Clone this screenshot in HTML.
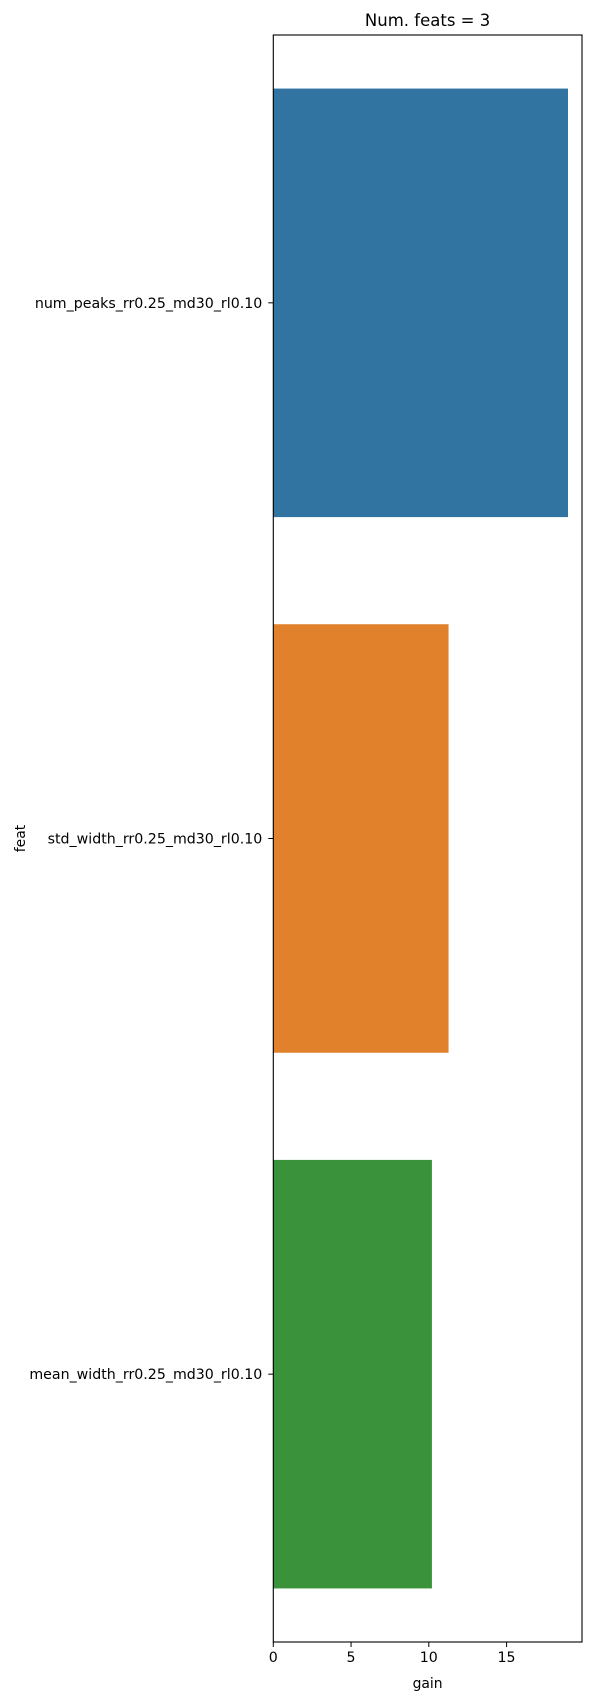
<!DOCTYPE html>
<html><head><meta charset="utf-8"><style>
html,body{margin:0;padding:0;background:#fff;}
svg{display:block;font-family:"DejaVu Sans","Liberation Sans",sans-serif;}
</style></head><body>
<svg id="chart" width="600" height="1700" xmlns="http://www.w3.org/2000/svg">
<rect width="600" height="1700" fill="#fff"/>
<text x="427.6" y="26" font-size="16.5" text-anchor="middle" fill="#000">Num. feats = 3</text>
<g id="bars"></g>
<g id="yaxis"></g>
<g id="xaxis"></g>
<rect x="273.3" y="35" width="308.7" height="1607" fill="none" stroke="#000" stroke-width="1.1"/>
<text x="0" y="0" font-size="13.9" text-anchor="middle" fill="#000" transform="translate(25,838.5) rotate(-90)">feat</text>
<text x="427.6" y="1688" font-size="13.9" text-anchor="middle" fill="#000">gain</text>
</svg>
<script>
const categories = ["num_peaks_rr0.25_md30_rl0.10","std_width_rr0.25_md30_rl0.10","mean_width_rr0.25_md30_rl0.10"];
const gains = [18.95, 11.27, 10.2];
const colors = ["#3274a1","#e1812c","#3a923a"];
const xTicks = [0,5,10,15];
const xTickLabels = ["0","5","10","15"];

const NS="http://www.w3.org/2000/svg";
const L=273.3,R=582,T=35,B=1642,XMAX=19.85;
const x=v=>L+(v/XMAX)*(R-L);
const band=(B-T)/categories.length;
const yc=i=>T+band*(i+0.5);
const bars=document.getElementById('bars'),ya=document.getElementById('yaxis'),xa=document.getElementById('xaxis');
function mk(t,a){const e=document.createElementNS(NS,t);for(const k in a)e.setAttribute(k,a[k]);return e;}
categories.forEach((c,i)=>{
  const r=mk('rect',{x:L,y:yc(i)-band*0.4,width:x(gains[i])-L,height:band*0.8,fill:colors[i]});
  
  
  bars.appendChild(r);
  const tk=mk('line',{x1:L-5,x2:L,y1:yc(i),y2:yc(i),stroke:'#000','stroke-width':1});
  
  
  ya.appendChild(tk);
  const tl=mk('text',{x:L-11,y:yc(i)+5,'font-size':14.2,'text-anchor':'end',fill:'#000'});
  tl.textContent=c;
  
  
  ya.appendChild(tl);
});
xTicks.forEach((v,i)=>{
  const tk=mk('line',{x1:x(v),x2:x(v),y1:B,y2:B+5,stroke:'#000','stroke-width':1});
  
  
  xa.appendChild(tk);
  const tl=mk('text',{x:x(v),y:B+20,'font-size':14.2,'text-anchor':'middle',fill:'#000'});
  tl.textContent=xTickLabels[i];
  
  
  xa.appendChild(tl);
});
</script>
</body></html>
